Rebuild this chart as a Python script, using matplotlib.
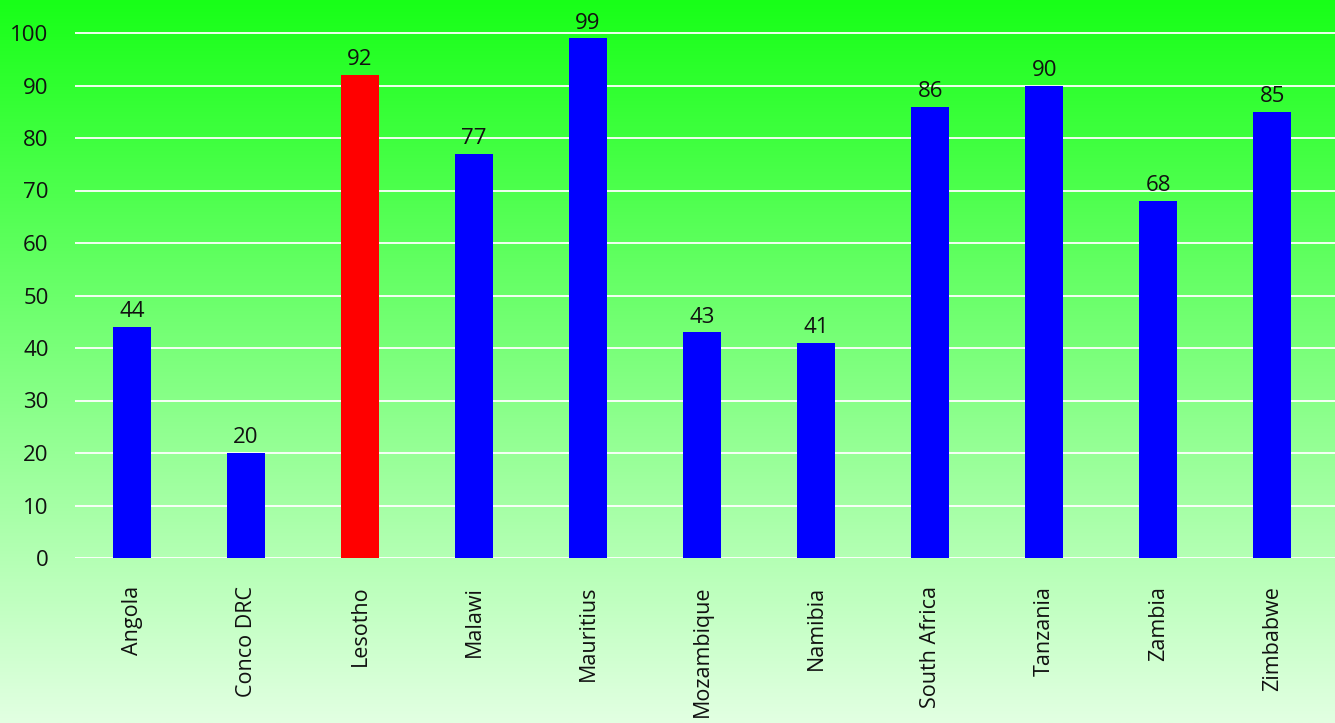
import matplotlib

matplotlib.use("Agg")
import matplotlib.pyplot as plt
import numpy as np
from matplotlib.colors import LinearSegmentedColormap

countries = [
    "Angola", "Conco DRC", "Lesotho", "Malawi", "Mauritius", "Mozambique",
    "Namibia", "South Africa", "Tanzania", "Zambia", "Zimbabwe",
]
values = [44, 20, 92, 77, 99, 43, 41, 86, 90, 68, 85]
highlight = "Lesotho"
yticks = [0, 10, 20, 30, 40, 50, 60, 70, 80, 90, 100]

plt.rcParams["font.family"] = ["Open Sans", "DejaVu Sans"]

W, H = 1335, 723
fig = plt.figure(figsize=(W / 100, H / 100), dpi=100)

# vertical green gradient behind everything
bg = fig.add_axes([0, 0, 1, 1], zorder=-10)
grad = np.linspace(0, 1, 256).reshape(-1, 1)
cmap = LinearSegmentedColormap.from_list("greens", ["#18ff18", "#e2ffe2"])
bg.imshow(grad, aspect="auto", cmap=cmap, extent=[0, 1, 0, 1], origin="upper")
bg.axis("off")

ymax = 101
bottom = (H - 558) / H
height = (558 - 33) / H * ymax / 100
left = 75 / W
ax = fig.add_axes([left, bottom, 1 - left, height])
ax.patch.set_alpha(0)

x = np.arange(len(countries))
colors = ["#ff0000" if c == highlight else "#0000ff" for c in countries]
ax.bar(x, values, width=0.33, color=colors, zorder=3)

for xi, v in zip(x, values):
    ax.text(xi, v + 0.9, str(v), ha="center", va="bottom", fontsize=16,
            color="#111111", zorder=4)

ax.set_xlim(-0.5, len(countries) - 0.45)
ax.set_ylim(0, ymax)
ax.set_yticks(yticks)
ax.set_yticklabels([str(t) for t in yticks], fontsize=16, color="#111111")
ax.set_xticks(x)
ax.set_xticklabels(countries, rotation=90, fontsize=15.5, color="#111111",
                   va="top", ha="center")
ax.tick_params(axis="both", length=0)
ax.tick_params(axis="y", pad=19)
ax.tick_params(axis="x", pad=20)
ax.grid(axis="y", color="white", linewidth=1.3, zorder=0)
for s in ax.spines.values():
    s.set_visible(False)

plt.savefig("out.png", dpi=100)
